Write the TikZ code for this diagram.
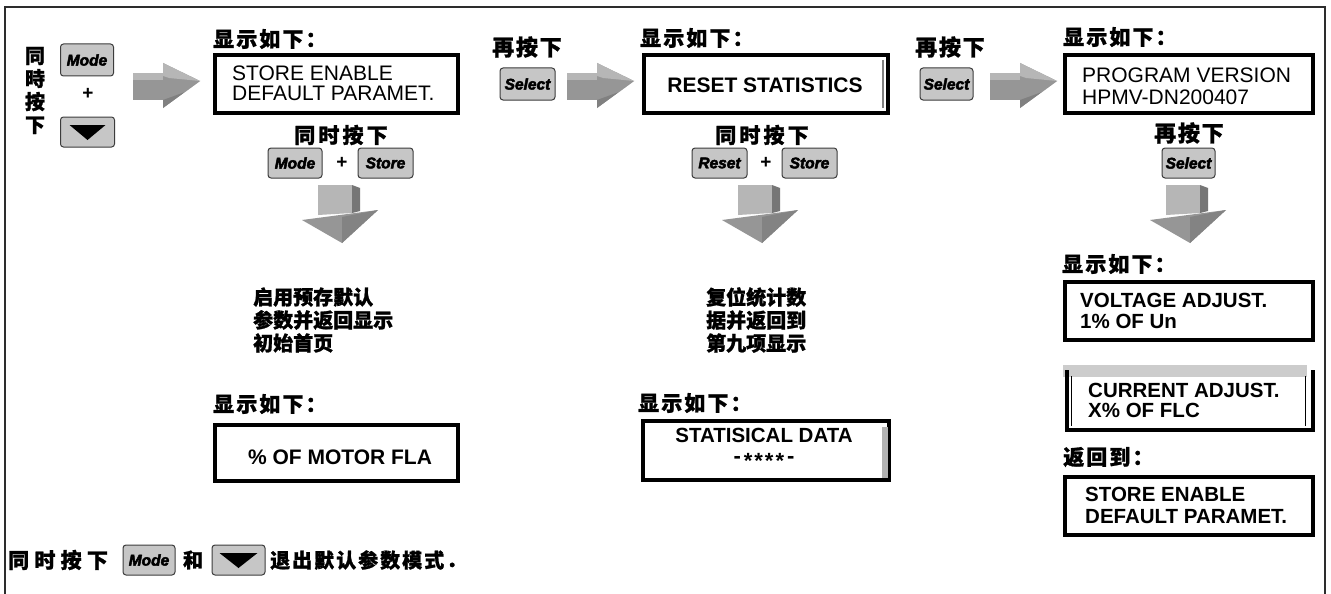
\documentclass[tikz,border=0pt]{standalone}
\usepackage{fontspec}
\setmainfont{Liberation Sans}
\newfontfamily\cjk{Noto Sans CJK SC}[FakeBold=1.2]
\usetikzlibrary{calc}
\definecolor{btnfill}{RGB}{198,198,198}
\definecolor{btnline}{RGB}{60,60,60}
\definecolor{arrA}{RGB}{150,150,150}
\definecolor{arrL}{RGB}{182,182,182}
\definecolor{arrD}{RGB}{118,118,118}
\definecolor{framec}{RGB}{45,45,45}
\newcommand{\RBlock}[1]{%
  \begin{scope}[shift={(#1)}]
    \fill[arrA] (0,11) -- (35,11) -- (35,38) -- (0,38) -- cycle;
    \fill[arrL] (0,11) -- (35,11) -- (35,18) -- (0,18) -- cycle;
    \fill[arrA] (30,1) -- (67,19) -- (30,46) -- cycle;
    \fill[arrL] (30,1) -- (67,19) -- (36,16) -- (30,14) -- cycle;
    \fill[arrD!70!arrA] (30,38) -- (52,30) -- (67,19) -- (30,46) -- cycle;
  \end{scope}}
\newcommand{\DBlock}[1]{%
  \begin{scope}[shift={(#1)}]
    \fill[arrL] (-22,0) -- (12,0) -- (12,28) -- (-22,30) -- cycle;
    \fill[arrD] (12,0) -- (20,3) -- (20,26) -- (12,28) -- cycle;
    \fill[arrA] (-38,35) -- (38,25) -- (2,58) -- cycle;
    \fill[arrD!60!arrA] (2,32) -- (38,25) -- (2,58) -- cycle;
  \end{scope}}
\begin{document}
\begin{tikzpicture}[x=1pt,y=-1pt,
  btn/.style={draw=btnline, line width=1pt, fill=btnfill, rounded corners=3pt,
    inner sep=0pt, font=\fontsize{15.5}{15.5}\selectfont\bfseries\itshape\addfontfeature{FakeBold=3}},
  disp/.style={draw=black, line width=4pt, fill=white, inner sep=0pt},
  boxtxt/.style={inner sep=0pt, align=left, font=\fontsize{21}{20}\selectfont},
  boxtxtb/.style={inner sep=0pt, align=left, font=\fontsize{20.5}{21}\selectfont\bfseries},
  cjkl/.style={inner sep=0pt, font=\cjk\bfseries\fontsize{21}{21}\selectfont\addfontfeature{LetterSpace=10}},
  cjks/.style={inner sep=0pt, font=\cjk\bfseries\fontsize{21}{21}\selectfont\addfontfeature{LetterSpace=15}},
  cjkr/.style={inner sep=0pt, font=\cjk\bfseries\fontsize{22}{22}\selectfont\addfontfeature{LetterSpace=8}},
  cjkt/.style={inner sep=0pt, align=left, font=\cjk\bfseries\fontsize{20}{23}\selectfont},
  plus/.style={inner sep=0pt, font=\fontsize{19}{19}\selectfont\bfseries},
]
\useasboundingbox (0,0) rectangle (1331,594);
\fill[white] (0,0) rectangle (1331,594);
\draw[framec, line width=1.5pt] (5,594) -- (5,7) -- (1325,7) -- (1325,594);

% ---- left start
\node[inner sep=0pt, align=center, font=\cjk\bfseries\fontsize{20}{23}\selectfont] (tL) at (35,90.5) {同\\時\\按\\下};
\node[btn, minimum width=53pt, minimum height=32pt] (bMode1) at (87,60) {Mode};
\node[plus] (p1) at (88,94) {+};
\node[btn, minimum width=54pt, minimum height=30pt] (bDown1) at (87.5,132) {};
\fill (bDown1.center) ++(-18,-7) -- ++(36,0) -- ++(-18,15) -- cycle;
\coordinate (ra1) at (133,62);
\RBlock{ra1}

% ---- column 1
\node[cjkl, anchor=west] (L1) at (213,39) {显示如下：};
\node[disp, minimum width=243pt, minimum height=58pt] (box1) at (336.5,84) {};
\node[boxtxt, anchor=west] (t1) at (232,83) {STORE ENABLE\\DEFAULT PARAMET.};
\node[cjks] (S1) at (341,135) {同时按下};
\node[btn, minimum width=54pt, minimum height=30pt] (bMode2) at (295,163) {Mode};
\node[plus] (p2) at (342,163) {+};
\node[btn, minimum width=55pt, minimum height=30pt] (bStore1) at (385.5,163) {Store};
\coordinate (da1) at (340,185);
\DBlock{da1}
\node[cjkt, anchor=west] (T1) at (253,320) {启用预存默认\\参数并返回显示\\初始首页};
\node[cjkl, anchor=west] (L4) at (213,404) {显示如下：};
\node[disp, minimum width=243pt, minimum height=56pt] (box4) at (336.5,453) {};
\node[boxtxtb, font=\fontsize{21}{21}\selectfont\bfseries] (t4) at (340,457) {\% OF MOTOR FLA};

% ---- column 2
\node[cjkr] (A1) at (527,47) {再按下};
\node[btn, minimum width=55pt, minimum height=32pt] (bSel1) at (527.5,84) {Select};
\coordinate (ra2) at (567,62);
\RBlock{ra2}
\node[cjkl, anchor=west] (L2) at (640,38) {显示如下：};
\node[disp, minimum width=244pt, minimum height=58pt] (box2) at (766,84) {};
\draw[gray, line width=1.2pt] (883,60) -- (883,108);
\node[boxtxtb, font=\fontsize{21}{21}\selectfont\bfseries] (t2) at (765,85) {RESET STATISTICS};
\node[cjks] (S2) at (762,135) {同时按下};
\node[btn, minimum width=55pt, minimum height=30pt] (bReset) at (719.5,163) {Reset};
\node[plus] (p3) at (766,163) {+};
\node[btn, minimum width=55pt, minimum height=30pt] (bStore2) at (809.5,163) {Store};
\coordinate (da2) at (760,185);
\DBlock{da2}
\node[cjkt, anchor=west] (T2) at (706,320) {复位统计数\\据并返回到\\第九项显示};
\node[cjkl, anchor=west] (L5) at (638,403) {显示如下：};
\node[disp, minimum width=246pt, minimum height=59pt] (box5) at (766,450.5) {};
\fill[gray!60] (882,427) rectangle (888,478);
\node[boxtxtb, align=center, font=\fontsize{20.5}{22}\selectfont\bfseries] (t5) at (764,448) {STATISICAL DATA\\[-1pt]{\fontsize{22}{22}\selectfont -\hspace{3pt}\raisebox{-5pt}{*\hspace{2pt}*\hspace{2pt}*\hspace{2pt}*}\hspace{3pt}-}};

% ---- column 3
\node[cjkr] (A2) at (950,47) {再按下};
\node[btn, minimum width=53pt, minimum height=32pt] (bSel2) at (946.5,84) {Select};
\coordinate (ra3) at (990,62);
\RBlock{ra3}
\node[cjkl, anchor=west] (L3) at (1063,37) {显示如下：};
\node[disp, minimum width=248pt, minimum height=58pt] (box3) at (1189,84) {};
\node[boxtxt, font=\fontsize{21}{22}\selectfont, anchor=west] (t3) at (1082,86) {PROGRAM VERSION\\HPMV-DN200407};
\node[cjkr] (A3) at (1189,133) {再按下};
\node[btn, minimum width=53pt, minimum height=30pt] (bSel3) at (1188.5,163) {Select};
\coordinate (da3) at (1188,185);
\DBlock{da3}
\node[cjkl, anchor=west] (L6) at (1062,264) {显示如下：};
\node[disp, minimum width=248pt, minimum height=58pt] (box6) at (1189,311) {};
\node[boxtxtb, anchor=west] (t6) at (1080,310.5) {VOLTAGE ADJUST.\\1\% OF Un};
% current adjust box
\fill[gray!40] (1063,365) rectangle (1307,377);
\draw[black, line width=4pt] (1067,370) -- (1067,430) -- (1313,430) -- (1313,370);
\draw[black, line width=0.8pt] (1071,376) -- (1071,426) (1305,376) -- (1305,426);
\node[inner sep=0pt, minimum width=248pt, minimum height=60pt] (box7) at (1189,400) {};
\node[boxtxtb, font=\fontsize{20.5}{20}\selectfont\bfseries, anchor=west] (t7) at (1088,400) {CURRENT ADJUST.\\X\% OF FLC};
\node[cjkl, anchor=west] (L7) at (1063,457) {返回到：};
\node[disp, minimum width=248pt, minimum height=58pt] (box8) at (1189,506) {};
\node[boxtxtb, font=\fontsize{20.5}{22}\selectfont\bfseries, anchor=west] (t8) at (1085,505) {STORE ENABLE\\DEFAULT PARAMET.};

% ---- bottom line
\node[anchor=west, inner sep=0pt, font=\cjk\bfseries\fontsize{21}{21}\selectfont\addfontfeature{LetterSpace=25}] (B1) at (8,560) {同时按下};
\node[btn, minimum width=52pt, minimum height=30pt] (bModeB) at (149,560) {Mode};
\node[inner sep=0pt, font=\cjk\bfseries\fontsize{20}{20}\selectfont] (B2) at (193,560) {和};
\node[btn, minimum width=53pt, minimum height=30pt] (bDownB) at (238.5,560) {};
\fill (bDownB.center) ++(-19,-7) -- ++(38,0) -- ++(-19,15) -- cycle;
\node[anchor=west, inner sep=0pt, font=\cjk\bfseries\fontsize{20}{20}\selectfont\addfontfeature{LetterSpace=10}] (B3) at (270,560) {退出默认参数模式．};
\end{tikzpicture}
\end{document}
